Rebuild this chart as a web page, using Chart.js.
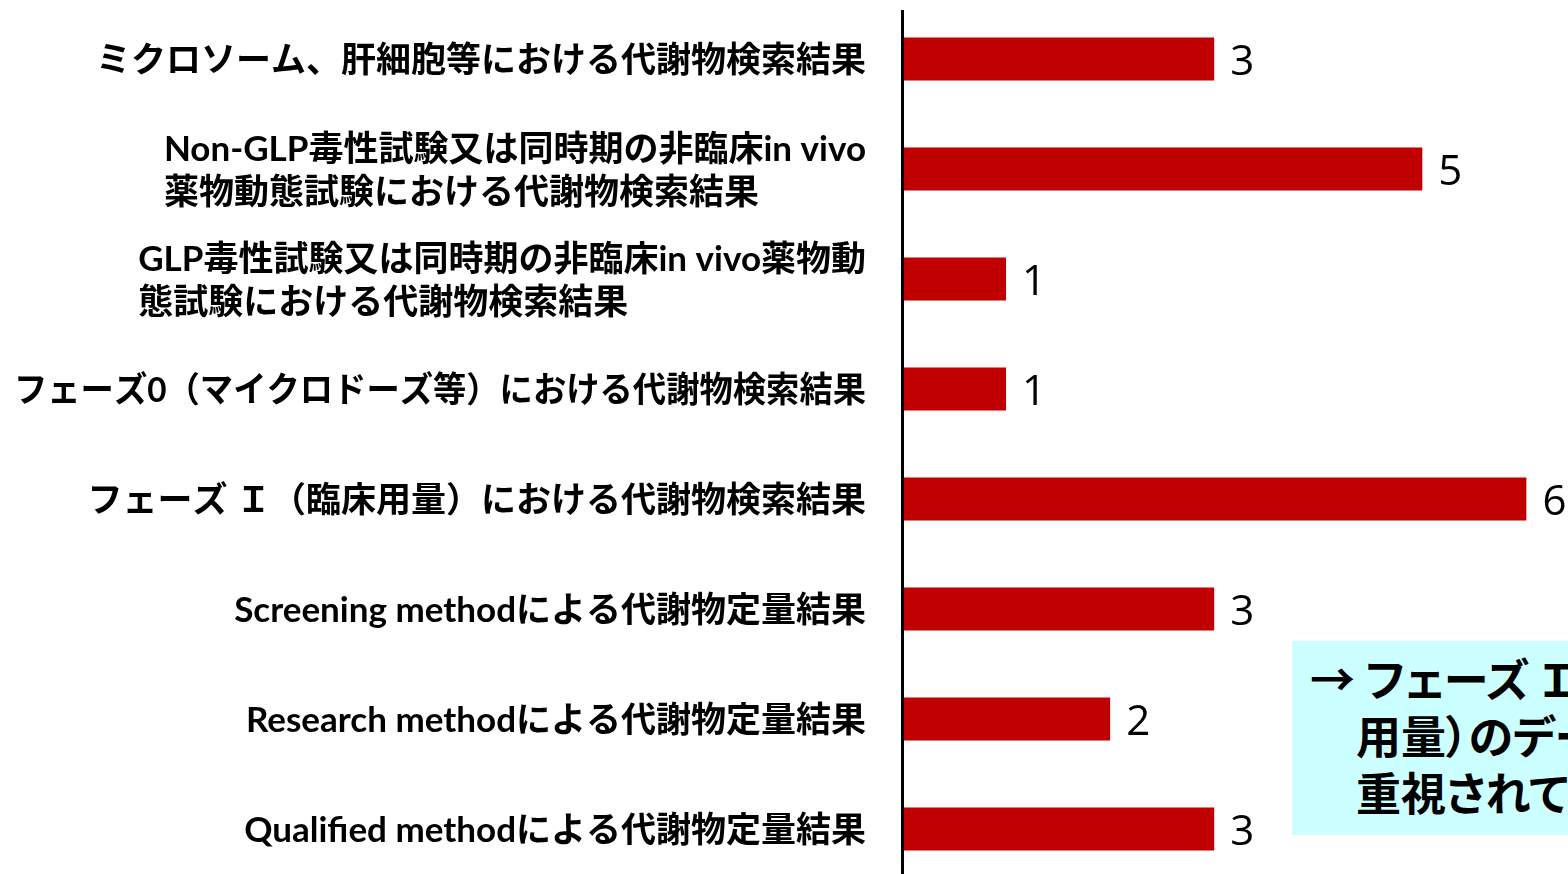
<!DOCTYPE html>
<html>
<head>
<meta charset="utf-8">
<script src="https://cdn.jsdelivr.net/npm/chart.js@4/dist/chart.umd.min.js"></script>
<style>
  html, body { margin: 0; padding: 0; background: #fff; overflow: hidden; }
  #wrap { position: relative; width: 1568px; height: 884px; }
  #note {
    position: absolute; left: 1292px; top: 641px; width: 400px; height: 194px;
    background: #CCFFFF; box-sizing: border-box; padding: 8px 0 0 18px;
    font: bold 45px "Noto Sans CJK JP"; line-height: 57px; color: #000;
    font-feature-settings: "palt"; white-space: nowrap;
  }
  #note .ind { padding-left: 46px; }
</style>
</head>
<body>
<div id="wrap">
  <canvas id="results"></canvas>
  <div id="note"></div>
</div>
<script>
// 各項目（複数行は配列）
var categories = [
  ['ミクロソーム、肝細胞等における代謝物検索結果'],
  ['Non-GLP毒性試験又は同時期の非臨床in vivo', '薬物動態試験における代謝物検索結果'],
  ['GLP毒性試験又は同時期の非臨床in vivo薬物動', '態試験における代謝物検索結果'],
  ['フェーズ0（マイクロドーズ等）における代謝物検索結果'],
  ['フェーズ Ｉ（臨床用量）における代謝物検索結果'],
  ['Screening methodによる代謝物定量結果'],
  ['Research methodによる代謝物定量結果'],
  ['Qualified methodによる代謝物定量結果']
]
var counts = [3, 5, 1, 1, 6, 3, 2, 3]
var noteLines = ['→ フェーズ Ｉ（臨床', '用量）のデータが', '重視されている']

var labelFont = 'bold 35px Lato, "Noto Sans CJK JP"'
var valueFont = '42px "Open Sans"'

// 項目名：右寄せのブロック、行は左揃え
var sideLabels = {
  id: 'sideLabels',
  afterDraw: function (chart) {
    var ctx = chart.ctx
    var y = chart.scales.y
    var right = chart.chartArea.left - 36
    var maxW = right - 14
    ctx.save()
    ctx.font = labelFont
    ctx.fillStyle = '#000'
    ctx.textBaseline = 'middle'
    ctx.textAlign = 'left'
    categories.forEach(function (lines, i) {
      var w = 0
      lines.forEach(function (l) { w = Math.max(w, ctx.measureText(l).width) })
      w = Math.min(w, maxW)
      var cy = y.getPixelForValue(i)
      var lh = 43
      var top = cy - (lines.length - 1) * lh / 2
      lines.forEach(function (l, k) {
        ctx.fillText(l, right - w, top + k * lh + 2, maxW)
      })
    })
    ctx.restore()
  }
}

// 縦軸の線
var axisLine = {
  id: 'axisLine',
  afterDatasetsDraw: function (chart) {
    var ctx = chart.ctx
    var a = chart.chartArea
    ctx.save()
    ctx.strokeStyle = '#000'
    ctx.lineWidth = 3
    ctx.beginPath()
    ctx.moveTo(a.left + 0.5, 10)
    ctx.lineTo(a.left + 0.5, a.bottom)
    ctx.stroke()
    ctx.restore()
  }
}

// 棒の右に件数
var valueLabels = {
  id: 'valueLabels',
  afterDatasetsDraw: function (chart) {
    var ctx = chart.ctx
    var meta = chart.getDatasetMeta(0)
    ctx.save()
    ctx.font = valueFont
    ctx.fillStyle = '#000'
    ctx.textBaseline = 'middle'
    ctx.textAlign = 'left'
    meta.data.forEach(function (bar, i) {
      ctx.fillText(String(counts[i]), bar.x + 16, bar.y + 4)
    })
    ctx.restore()
  }
}

var can = document.getElementById('results')
var config = {
  type: 'bar',
  data: {
    labels: categories,
    datasets: [
      { label: '件数', data: counts, backgroundColor: '#C00000', categoryPercentage: 1, barPercentage: 0.39 }
    ]
  },
  options: {
    indexAxis: 'y',
    responsive: false,
    animation: false,
    layout: { padding: { left: 902, top: 4, right: 0, bottom: 0 } },
    plugins: { legend: { display: false }, tooltip: { enabled: false } },
    scales: {
      x: { display: false, min: 0, max: 6.4 },
      y: { display: false }
    }
  },
  plugins: [axisLine, valueLabels, sideLabels]
}
can.width = 1568
can.height = 884
var chart = new Chart(can, config)

// 右下の注記
var note = document.getElementById('note')
noteLines.forEach(function (t, i) {
  var d = document.createElement('div')
  if (i > 0) d.className = 'ind'
  d.textContent = t
  note.appendChild(d)
})
</script>
</body>
</html>
